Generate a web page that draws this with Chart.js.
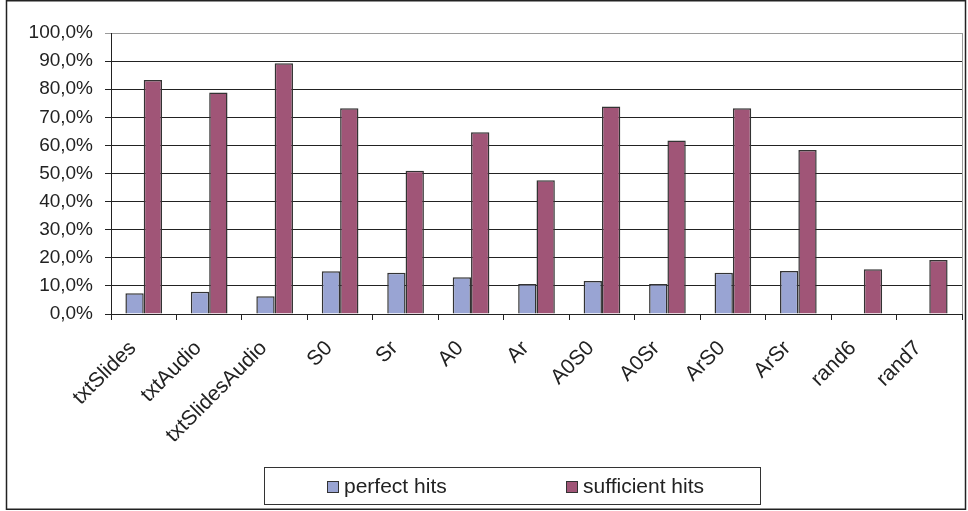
<!DOCTYPE html>
<html>
<head>
<meta charset="utf-8">
<script src="https://cdn.jsdelivr.net/npm/chart.js@4.4.1/dist/chart.umd.min.js"></script>
<style>
  body { margin: 0; background: #fff; }
  #wrap { width: 968px; height: 511px; position: relative; }
</style>
</head>
<body>
<div id="wrap"><canvas id="hitsChart"></canvas></div>
<script>
// categorie e valori (percentuali)
const categories = ["txtSlides", "txtAudio", "txtSlidesAudio", "S0", "Sr", "A0", "Ar", "A0S0", "A0Sr", "ArS0", "ArSr", "rand6", "rand7"];
const perfectHits = [7.4, 7.9, 6.3, 15.2, 14.7, 13.1, 10.7, 11.7, 10.7, 14.7, 15.3, 0, 0];
const sufficientHits = [83.3, 78.8, 89.2, 73.2, 51.0, 64.7, 47.6, 73.8, 61.7, 73.2, 58.4, 15.9, 19.2];
const seriesNames = ["perfect hits", "sufficient hits"];
const yTicks = [0, 10, 20, 30, 40, 50, 60, 70, 80, 90, 100];

const FONT = '"Liberation Sans", Arial, sans-serif';
const colors = ["#99a4d3", "#a05577"];

// Cornice esterna + bordo area grafico
const frameAndBorder = {
    id: 'frameAndBorder',
    afterDraw(chart) {
        const { ctx, chartArea } = chart;
        ctx.save();
        // bordo destro dell'area (grigio)
        ctx.strokeStyle = '#9a9a9a';
        ctx.lineWidth = 1;
        ctx.beginPath();
        ctx.moveTo(Math.round(chartArea.right) + 0.5, chartArea.top);
        ctx.lineTo(Math.round(chartArea.right) + 0.5, chartArea.bottom);
        ctx.stroke();
        // cornice esterna
        ctx.strokeStyle = '#222';
        ctx.lineWidth = 1.5;
        ctx.strokeRect(6.5, 0.75, 959, 508.5);
        ctx.restore();
    }
};

// Legenda con riquadro, disegnata in basso
const boxedLegend = {
    id: 'boxedLegend',
    afterDraw(chart) {
        const { ctx } = chart;
        const box = { x: 264.5, y: 467.5, w: 496, h: 37 };
        const itemX = [327, 566];
        ctx.save();
        ctx.fillStyle = '#fff';
        ctx.fillRect(box.x, box.y, box.w, box.h);
        ctx.strokeStyle = '#333';
        ctx.lineWidth = 1;
        ctx.strokeRect(box.x, box.y, box.w, box.h);
        ctx.font = '21px ' + FONT;
        ctx.textBaseline = 'middle';
        chart.data.datasets.forEach((ds, i) => {
            const sx = itemX[i];
            ctx.fillStyle = ds.backgroundColor;
            ctx.fillRect(sx + 0.5, 481.5, 11, 11);
            ctx.strokeStyle = '#333';
            ctx.strokeRect(sx + 0.5, 481.5, 11, 11);
            ctx.fillStyle = '#222';
            ctx.fillText(ds.label, sx + 17, 487);
        });
        ctx.restore();
    }
};

const ctx = document.getElementById("hitsChart").getContext("2d");

new Chart(ctx, {
    type: "bar",
    data: {
        labels: categories,
        datasets: [
            {
                label: seriesNames[0],
                data: perfectHits,
                backgroundColor: colors[0],
                borderColor: "#333",
                borderWidth: 1.5,
                barPercentage: 1,
                categoryPercentage: 0.56
            },
            {
                label: seriesNames[1],
                data: sufficientHits,
                backgroundColor: colors[1],
                borderColor: "#333",
                borderWidth: 1.5,
                barPercentage: 1,
                categoryPercentage: 0.56
            }
        ]
    },
    options: {
        responsive: true,
        maintainAspectRatio: false,
        animation: false,
        layout: { padding: { top: 33, right: 6, left: 0, bottom: 0 } },
        plugins: {
            legend: { display: false },
            tooltip: { enabled: false }
        },
        scales: {
            x: {
                grid: {
                    drawOnChartArea: false,
                    color: "#222",
                    tickLength: 6,
                    offset: true
                },
                border: { color: "#222", width: 1 },
                ticks: {
                    autoSkip: false,
                    minRotation: 45,
                    maxRotation: 45,
                    color: "#222",
                    font: { family: FONT, size: 21 },
                    padding: 16,
                    labelOffset: -11
                },
                afterFit(scale) { scale.height = 197; }
            },
            y: {
                min: 0,
                max: 100,
                afterBuildTicks(scale) { scale.ticks = yTicks.map(v => ({ value: v })); },
                grid: {
                    color: (c) => c.tick && c.tick.value === 100 ? "#9a9a9a" : "#222",
                    tickLength: 6
                },
                border: { color: "#222", width: 1 },
                ticks: {
                    color: "#222",
                    font: { family: FONT, size: 19 },
                    padding: 12,
                    callback: (v) => v.toFixed(1).replace(".", ",") + "%"
                },
                afterFit(scale) { scale.width = 111; }
            }
        }
    },
    plugins: [frameAndBorder, boxedLegend]
});
</script>
</body>
</html>
